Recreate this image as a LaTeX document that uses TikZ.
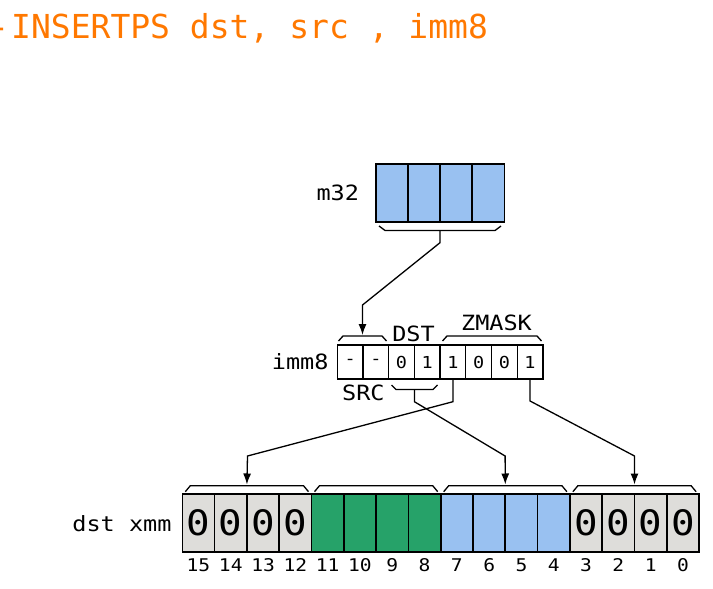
\documentclass[tikz,border=0pt]{standalone}
\usepackage{fontspec}
\newfontfamily\dmono[FakeStretch=1.12]{DejaVu Sans Mono}
\newfontfamily\tmono{DejaVu Sans Mono}
\usetikzlibrary{arrows.meta}
\definecolor{cblue}{HTML}{99C1F1}
\definecolor{cgreen}{HTML}{26A269}
\definecolor{cgray}{HTML}{DEDDDA}
\definecolor{corange}{HTML}{FF7800}
\begin{document}
\begin{tikzpicture}[x=1pt,y=-1pt,
  bigcell/.style={draw=black, line width=1.6pt, inner sep=0pt, outer sep=0pt,
    minimum width=32.2pt, minimum height=57.7pt, font=\dmono\fontsize{35}{35}\selectfont},
  immcell/.style={draw=black, line width=1.3pt, inner sep=0pt, outer sep=0pt, fill=white,
    minimum width=25.7pt, minimum height=34pt, font=\dmono\fontsize{16.5}{16.5}\selectfont},
  lbl/.style={inner sep=0pt, outer sep=0pt, font=\dmono\fontsize{21}{21}\selectfont},
  numlbl/.style={inner sep=0pt, outer sep=0pt, anchor=base, font=\dmono\fontsize{17.5}{17.5}\selectfont},
  bracket/.style={draw=black, line width=1.3pt, line join=miter},
  conn/.style={draw=black, line width=1.3pt, -{Latex[length=11pt,width=8pt]}},
  ]
\useasboundingbox (0,0) rectangle (713,589);

% title
\node[anchor=base west, inner sep=0pt, text=corange, font=\tmono\fontsize{33}{33}\selectfont]
  (title) at (11,38.3) {\llap{-\kern2.3pt}INSERTPS dst, src , imm8};

% m32
\foreach \k in {0,...,3}
  \node[bigcell, fill=cblue] (m\k) at ({376+32.1*(\k+0.5)},192.85) {};
\node[lbl, anchor=east] (lm32) at (359,193) {m32};
\draw[bracket] (379,226) -- (385,230.5) -- (495,230.5) -- (501,226);
\coordinate (mst) at (440,230.5);

% imm8
\foreach \k/\t in {0/-,1/-,2/0,3/1,4/1,5/0,6/0,7/1}
  \node[immcell] (i\k) at ({337.3+25.7*(\k+0.5)},362) {\t};
\node[lbl, anchor=east] (limm) at (328.5,362) {imm8};
\node[lbl, anchor=base] (ldst) at (413.5,341) {DST};
\node[lbl, anchor=base] (lzm) at (496.5,330) {ZMASK};
\node[lbl, anchor=base] (lsrc) at (363.4,400) {SRC};
\draw[bracket] (338.5,341) -- (343,336) -- (382,336) -- (386.5,341);
\draw[bracket] (442.5,341) -- (447,336) -- (537,336) -- (541.5,341);
\draw[bracket] (391.5,385) -- (396,389.5) -- (433,389.5) -- (437.5,385);
\coordinate (ut) at (362.5,335);
\coordinate (lst) at (414.4,389.5);

% dst xmm
\foreach \k in {0,...,3}
  \node[bigcell, fill=cgray] (d\k) at ({182.3+32.3*(\k+0.5)},523) {0};
\foreach \k in {4,...,7}
  \node[bigcell, fill=cgreen] (d\k) at ({182.3+32.3*(\k+0.5)},523) {};
\foreach \k in {8,...,11}
  \node[bigcell, fill=cblue] (d\k) at ({182.3+32.3*(\k+0.5)},523) {};
\foreach \k in {12,...,15}
  \node[bigcell, fill=cgray] (d\k) at ({182.3+32.3*(\k+0.5)},523) {0};
\foreach \k [evaluate=\k as \b using int(15-\k)] in {0,...,15}
  \node[numlbl] (n\k) at ({182.3+32.3*(\k+0.5)},571) {\b};
\node[lbl, anchor=east] (ldx) at (171.5,524) {dst xmm};
\foreach \g in {0,...,3}{
  \draw[bracket] ({182.3+129.2*\g+3},491.7) -- ({182.3+129.2*\g+8},485.7)
     -- ({182.3+129.2*\g+121.2},485.7) -- ({182.3+129.2*\g+126.2},491.7);
  \coordinate (gt\g) at ({182.3+129.2*\g+64.6},484.5);
}

% connectors
\coordinate (a1) at (440,242.7);
\coordinate (a2) at (362.5,305);
\draw[conn] (mst) -- (a1) -- (a2) -- (ut);
\coordinate (b1) at (452.95,401.7);
\coordinate (b2) at (247.5,456);
\draw[conn] (i4.south) -- (b1) -- (b2) -- (gt0);
\coordinate (c1) at (414.4,401.7);
\coordinate (c2) at (505.1,456);
\draw[conn] (lst) -- (c1) -- (c2) -- (gt2);
\coordinate (e1) at (530.05,401);
\coordinate (e2) at (634.5,456);
\draw[conn] (i7.south) -- (e1) -- (e2) -- (gt3);
\end{tikzpicture}
\end{document}
